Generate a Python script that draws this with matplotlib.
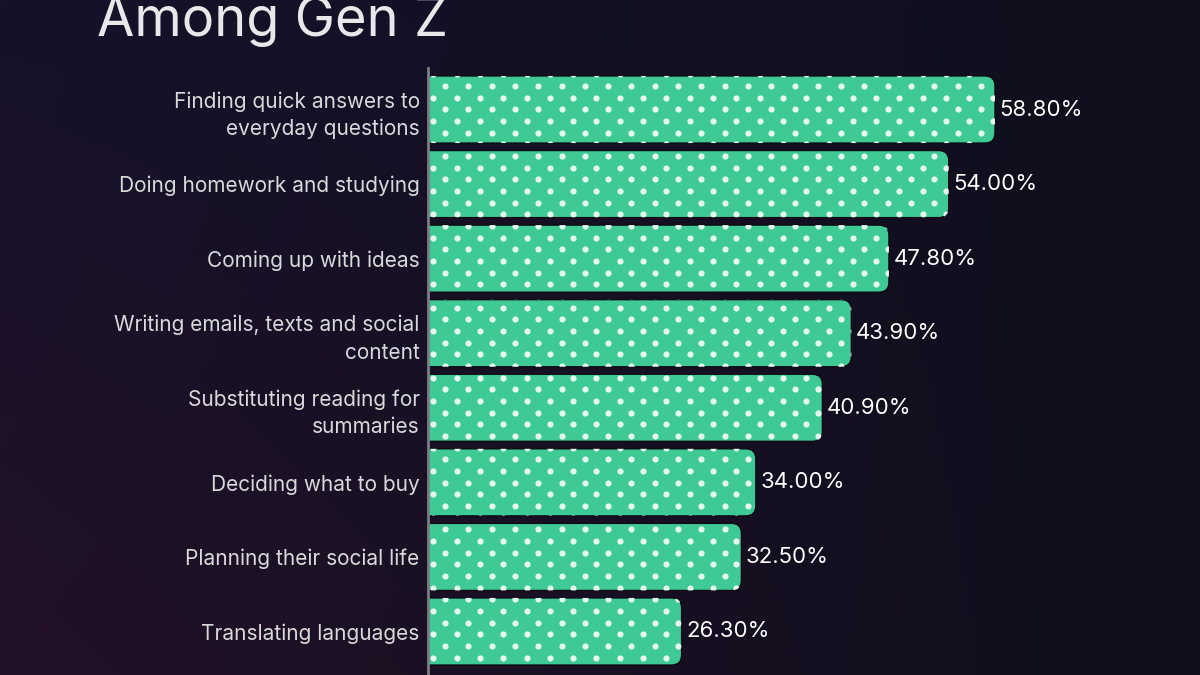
import matplotlib
matplotlib.use("Agg")
import matplotlib.pyplot as plt
from matplotlib.path import Path
from matplotlib.patches import PathPatch
import numpy as np

CATEGORIES = [
    "Finding quick answers to\neveryday questions",
    "Doing homework and studying",
    "Coming up with ideas",
    "Writing emails, texts and social\ncontent",
    "Substituting reading for\nsummaries",
    "Deciding what to buy",
    "Planning their social life",
    "Translating languages",
]
VALUES = [58.8, 54.0, 47.8, 43.9, 40.9, 34.0, 32.5, 26.3]
TITLE = "Among Gen Z"

BAR_COLOR = "#3ec995"
DOT_COLOR = "#e3f8ee"
LABEL_COLOR = "#d9d9dc"
FONT = ["Inter", "DejaVu Sans"]

W, H = 1200, 675
fig = plt.figure(figsize=(W / 100, H / 100), dpi=100)

# ---- background gradient ----
bg = fig.add_axes([0, 0, 1, 1])
bg.set_axis_off()
gx, gy = np.meshgrid(np.linspace(0, 1, 240), np.linspace(0, 1, 135))
top_left = np.array([0x16, 0x12, 0x2a]) / 255
bot_left = np.array([0x23, 0x11, 0x27]) / 255
right = np.array([0x10, 0x0f, 0x1e]) / 255
left_col = top_left[None, None, :] * (1 - gy[..., None]) + bot_left[None, None, :] * gy[..., None]
t = np.clip(gx[..., None] * 1.1, 0, 1)
img = left_col * (1 - t) + right[None, None, :] * t
bg.imshow(img, aspect="auto", extent=[0, 1, 0, 1], origin="upper")

# title sits partly above the top edge, as in the source
fig.text(97 / W, 1 - 36 / H, TITLE, fontsize=39, color="#e8e8ea", family=FONT,
         ha="left", va="baseline")

# ---- bars ----
x0_px, px_per_pct = 428, 9.643
xmax = 60
ax_w = xmax * px_per_pct
row_px = 74.57
top_lim, bot_lim = -0.56, 7.6
ax_top = 109.5 + top_lim * row_px
ax_bot = 109.5 + bot_lim * row_px
ax = fig.add_axes([x0_px / W, 1 - ax_bot / H, ax_w / W, (ax_bot - ax_top) / H])
ax.set_facecolor("none")
ax.set_xlim(0, xmax)
ax.set_ylim(bot_lim, top_lim)

bar_h = 0.9
rx = 10 / px_per_pct
ry = 10 / row_px

# dot pattern (pixel spacing converted to data units)
dx = 23.3 / px_per_pct
dy = 11.67 / row_px
ys = np.arange((86 - 109.5) / row_px - 2 * dy, bot_lim, dy)
dot_x, dot_y = [], []
for i, yy in enumerate(ys):
    off = (445 - x0_px) / px_per_pct - (dx / 2 if i % 2 else 0)
    xs = np.arange(off, xmax, dx)
    dot_x.extend(xs)
    dot_y.extend([yy] * len(xs))
dot_x = np.array(dot_x)
dot_y = np.array(dot_y)

for i, (cat, val) in enumerate(zip(CATEGORIES, VALUES)):
    y0, y1 = i - bar_h / 2, i + bar_h / 2
    verts = [(0, y0), (val - rx, y0), (val, y0), (val, y0 + ry),
             (val, y1 - ry), (val, y1), (val - rx, y1), (0, y1), (0, y0)]
    codes = [Path.MOVETO, Path.LINETO, Path.CURVE3, Path.CURVE3,
             Path.LINETO, Path.CURVE3, Path.CURVE3, Path.LINETO, Path.CLOSEPOLY]
    patch = PathPatch(Path(verts, codes), facecolor=BAR_COLOR,
                      edgecolor="#0c0a14", lw=1.0, zorder=2)
    ax.add_patch(patch)
    sc = ax.scatter(dot_x, dot_y, s=20, color=DOT_COLOR, linewidths=0, zorder=3)
    sc.set_clip_path(patch)
    ax.text(val + 0.45, i, f"{val:.2f}%", color="white", fontsize=16,
            family=FONT, va="center", ha="left", zorder=4)

ax.set_yticks(range(len(CATEGORIES)))
ax.set_yticklabels(CATEGORIES, color=LABEL_COLOR, fontsize=15, family=FONT,
                   linespacing=1.45)
ax.tick_params(axis="y", length=0, pad=6)
ax.set_xticks([])
for s in ["top", "right", "bottom"]:
    ax.spines[s].set_visible(False)
ax.spines["left"].set_color("#7c7c84")
ax.spines["left"].set_linewidth(2)
ax.spines["left"].set_zorder(5)

fig.savefig("out.png", dpi=100)
